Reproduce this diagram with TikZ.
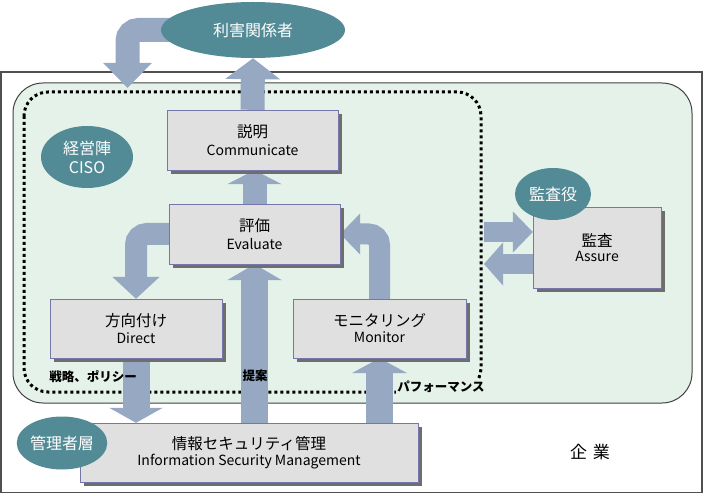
\documentclass[tikz,border=0pt]{standalone}
\usepackage{fontspec}
\setmainfont{Noto Sans CJK JP}
\usetikzlibrary{arrows.meta,shapes.geometric,shadows}

\definecolor{ellfill}{RGB}{82,139,150}
\definecolor{arrowfill}{RGB}{150,168,194}
\definecolor{boxfill}{RGB}{224,224,224}
\definecolor{boxline}{RGB}{118,118,170}
\definecolor{bgreen}{RGB}{228,242,234}
\definecolor{shadowgray}{RGB}{110,110,110}
\definecolor{framegray}{RGB}{80,80,80}

\newcommand{\rolesize}{\fontsize{16}{19}\selectfont}
\newcommand{\boxjp}{\fontsize{15.5}{20}\selectfont}
\newcommand{\boxen}{\fontsize{14}{20}\selectfont}
\newcommand{\notesize}{\fontsize{12.5}{15}\selectfont}
\newcommand{\corpsize}{\fontsize{17}{20}\selectfont}

\pgfdeclarelayer{bg}
\pgfdeclarelayer{arrowlayer}
\pgfsetlayers{bg,arrowlayer,main}

\begin{document}
\begin{tikzpicture}[x=1pt,y=-1pt]
    \tikzset{role/.style = {shape=ellipse, fill=ellfill, text=white, inner sep=0pt, align=center, font=\rolesize}}
    \tikzset{task/.style = {shape=rectangle, draw=boxline, fill=boxfill, align=center, inner sep=0pt,
        drop shadow={shadow xshift=4pt, shadow yshift=-4pt, fill=shadowgray, opacity=1}}}
    \tikzset{flow/.style = {draw=arrowfill, line width=24pt, rounded corners=11pt}}
    \tikzset{note/.style = {font=\notesize\bfseries, inner sep=1pt}}

    \useasboundingbox (0,0) rectangle (704,494);

    % frames
    \begin{pgfonlayer}{bg}
        \draw[framegray, line width=1.5pt] (0.75,72) rectangle (702,492.5);
        \draw[draw=black!75, fill=bgreen, line width=1pt, rounded corners=30pt] (13,83) rectangle (692,403);
        \draw[line width=3pt, dash pattern=on 3pt off 3pt, rounded corners=24pt] (24,92) rectangle (481,392);
    \end{pgfonlayer}

    % boxes
    \node[task, minimum width=171pt, minimum height=60pt] (comm) at (252.5,140) {\boxjp 説明\\[4pt]\boxen Communicate};
    \node[task, minimum width=171pt, minimum height=60pt] (eval) at (254.5,234) {\boxjp 評価\\[4pt]\boxen Evaluate};
    \node[task, minimum width=172pt, minimum height=59pt] (direct) at (136,328.5) {\boxjp 方向付け\\[4pt]\boxen Direct};
    \node[task, minimum width=173pt, minimum height=59pt] (mon) at (379.5,328.5) {\boxjp モニタリング\\[4pt]\boxen Monitor};
    \node[task, minimum width=128pt, minimum height=81pt] (assure) at (597,247.5) {\boxjp 監査\\[3pt]\boxen Assure};
    \node[task, minimum width=338pt, minimum height=59pt] (ism) at (249,452.5) {\boxjp 情報セキュリティ管理\\[3pt]\boxen Information Security Management};

    % roles
    \node[role, minimum width=184pt, minimum height=56pt] (sh) at (253,30) {利害関係者};
    \node[role, minimum width=92pt, minimum height=62pt] (ciso) at (87,157) {経営陣\\CISO};
    \node[role, minimum width=76pt, minimum height=52pt] (audr) at (553,194) {監査役};
    \node[role, minimum width=76pt, minimum height=53pt] (mgr) at (62,443) {管理者層};

    % labels
    \node[note] (strat) at (93,377) {戦略、ポリシー};
    \node[note] (prop) at (255,376) {提案};
    \node[note, fill=bgreen] (perf) at (441,387) {パフォーマンス};
    \node[font=\corpsize] (corp) at (590,452) {企\hspace{0.35em}業};

    % arrows
    \begin{pgfonlayer}{arrowlayer}
        \coordinate (entry) at (127.5,88);
        \coordinate (toaud) at (484,232);
        \coordinate (fromaud) at (484,264);
        \draw[flow, -{Triangle[width=47pt,length=25pt]}] (sh.center) -| (entry);
        \draw[flow, -{Triangle[width=54pt,length=21pt]}] (comm.north) -- (sh.south);
        \draw[flow, -{Triangle[width=54pt,length=14pt]}] (eval.north) -- (eval.north |- comm.south);
        \draw[flow, line width=22pt, -{Triangle[width=46pt,length=22pt]}] (eval.west) -| (direct.north);
        \draw[flow, line width=21pt, -{Triangle[width=40pt,length=20pt]}] (mon.north) |- (eval.east);
        \draw[flow, line width=27pt, -{Triangle[width=54pt,length=16pt]}] (ism.north -| eval.south) -- (eval.south);
        \draw[flow, line width=27pt, -{Triangle[width=53pt,length=15pt]}] (direct.south) -- (direct.south |- ism.north);
        \draw[flow, line width=27pt, -{Triangle[width=55pt,length=15pt]}] (ism.north -| mon.south) -- (mon.south);
        \draw[flow, line width=20pt, -{Triangle[width=40pt,length=20pt]}] (toaud) -- (toaud -| assure.west);
        \draw[flow, line width=20pt, -{Triangle[width=42pt,length=19pt]}] (fromaud -| assure.west) -- (fromaud);
    \end{pgfonlayer}
\end{tikzpicture}
\end{document}
